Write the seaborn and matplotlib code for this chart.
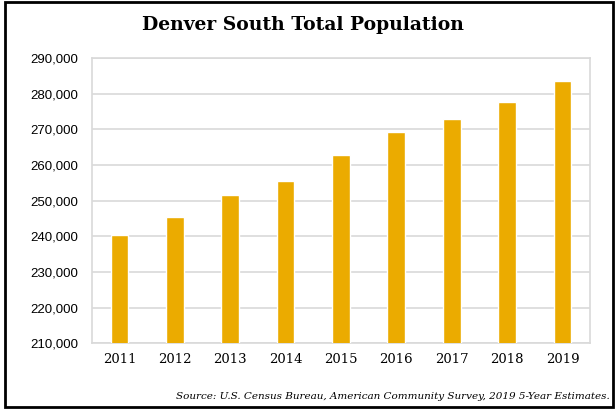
import pandas as pd
import matplotlib.pyplot as plt
import seaborn as sns
from matplotlib.patches import Rectangle
from matplotlib.ticker import FuncFormatter

years = ["2011", "2012", "2013", "2014", "2015", "2016", "2017", "2018", "2019"]
population = [240300, 245450, 251700, 255500, 262700, 269300, 272900, 277800, 283500]

df = pd.DataFrame({"Year": years, "Population": population})

sns.set_style("white")
plt.rcParams["text.color"] = "black"
plt.rcParams["xtick.color"] = "black"
plt.rcParams["ytick.color"] = "black"
fig = plt.figure(figsize=(6.16, 4.09), dpi=100)
ax = fig.add_axes([0.149, 0.161, 0.809, 0.697])

sns.barplot(data=df, x="Year", y="Population", color="#EBAB00",
            saturation=1, width=0.32, ax=ax, zorder=3)

ax.set_ylim(210000, 290000)
ax.set_yticks(range(210000, 290001, 10000))
ax.yaxis.set_major_formatter(FuncFormatter(lambda v, p: f"{int(v):,}"))
ax.grid(axis="y", color="#D9D9D9", linewidth=1.2, zorder=0)
ax.set_axisbelow(True)
for s in ax.spines.values():
    s.set_color("#D9D9D9")
    s.set_linewidth(1.2)
ax.set_xlabel("")
ax.set_ylabel("")
ax.tick_params(axis="both", length=0)
ax.tick_params(axis="y", pad=10)
ax.tick_params(axis="x", pad=7)
for lbl in ax.get_yticklabels():
    lbl.set_fontfamily("Liberation Sans")
    lbl.set_fontsize(9.5)
for lbl in ax.get_xticklabels():
    lbl.set_fontfamily("DejaVu Serif")
    lbl.set_fontsize(9.5)

fig.text(0.492, 0.938, "Denver South Total Population", ha="center", va="center",
         fontsize=13.5, fontweight="bold", family="DejaVu Serif")
fig.text(0.99, 0.03, "Source: U.S. Census Bureau, American Community Survey, 2019 5-Year Estimates.",
         ha="right", va="center", fontsize=7.5, style="italic", family="DejaVu Serif")

fig.patches.append(Rectangle((0.008, 0.005), 0.987, 0.99, transform=fig.transFigure,
                             fill=False, edgecolor="black", linewidth=2))

fig.savefig("out.png", dpi=100)
